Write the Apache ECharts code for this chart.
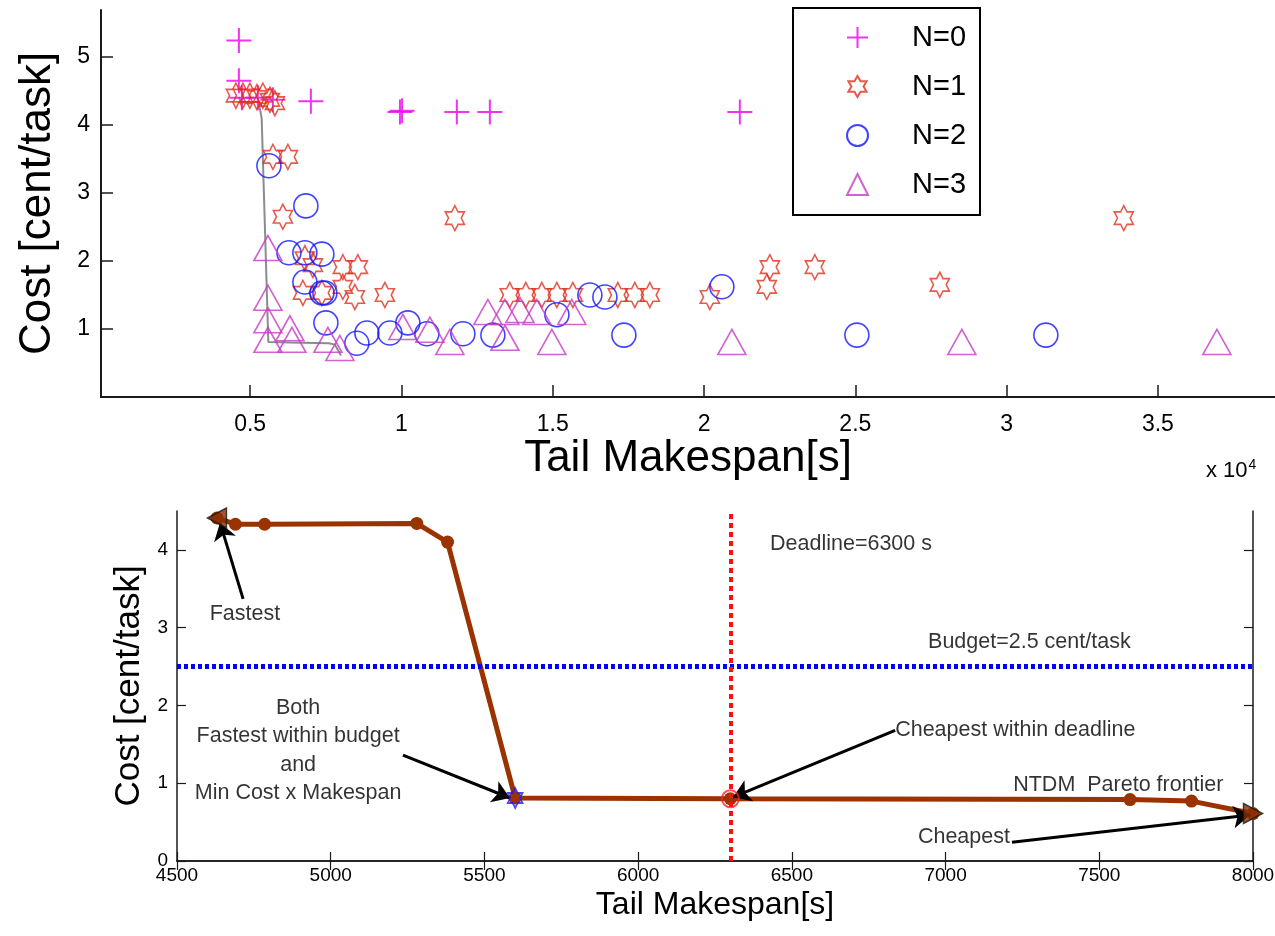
<!DOCTYPE html>
<html>
<head>
<meta charset="utf-8">
<script src="https://cdn.jsdelivr.net/npm/echarts@6/dist/echarts.min.js"></script>
<style>
  html, body { margin: 0; padding: 0; background: #fff; }
  #chart { width: 1275px; height: 936px; }
</style>
</head>
<body>
<div id="chart"></div>
<script>
// ---- Upper panel: every configuration, tail makespan [s] vs cost [cent/task], grouped by N ----
const n0X = [4627, 4627, 4726, 5254, 5750, 7006, 9950, 10020, 11830, 12921, 21183];
const n0Y = [5.24, 4.65, 4.40, 4.40, 4.37, 4.35, 4.19, 4.21, 4.19, 4.19, 4.19];

const n1X = [4528, 4759, 4990, 5222, 5420, 5652, 5817, 5751, 6247, 6080, 11765, 33873,
             6808, 7072, 8063, 8559, 6742, 7370, 8063, 8460, 9452,
             13580, 14110, 14640, 15135, 15664, 17150, 17713, 18209, 20192, 22075, 22175, 23662, 27793];
const n1Y = [4.43, 4.43, 4.43, 4.41, 4.43, 4.37, 4.32, 3.53, 3.53, 2.65, 2.63, 2.63,
             2.04, 1.94, 1.91, 1.91, 1.53, 1.53, 1.62, 1.47, 1.50,
             1.50, 1.50, 1.50, 1.50, 1.50, 1.50, 1.50, 1.50, 1.47, 1.62, 1.91, 1.91, 1.65];

const n2X = [5619, 6841, 6280, 6808, 7370, 6808, 7370, 7470, 7503, 8857, 8526, 9617,
             10212, 10840, 12030, 13022, 15137, 16227, 16723, 17351, 20590, 25052, 31297];
const n2Y = [3.40, 2.81, 2.12, 2.12, 2.10, 1.69, 1.53, 1.53, 1.09, 0.94, 0.79, 0.94,
             1.09, 0.93, 0.93, 0.91, 1.21, 1.50, 1.47, 0.91, 1.62, 0.91, 0.91];

const n3X = [5586, 5586, 5586, 5586, 6313, 6379, 7568, 7965, 10047, 10940, 11600,
             12857, 13420, 13420, 13915, 14475, 14970, 15630, 20920, 28520, 36950];
const n3Y = [2.19, 1.46, 1.13, 0.84, 1.01, 0.84, 0.84, 0.72, 1.03, 0.99, 0.81,
             1.25, 1.25, 0.87, 1.28, 1.25, 0.81, 1.25, 0.81, 0.81, 0.81];

const groupNames = ['N=0', 'N=1', 'N=2', 'N=3'];
const topXTicks = [5000, 10000, 15000, 20000, 25000, 30000, 35000];
const topYTicks = [1, 2, 3, 4, 5];

// ---- Lower panel: NTDM Pareto frontier with budget and deadline ----
const frontX = [4630, 4690, 4785, 5280, 5380, 5600, 6300, 7600, 7800, 8000];
const frontY = [4.41, 4.33, 4.33, 4.34, 4.10, 0.81, 0.80, 0.79, 0.77, 0.61];
const deadline = 6300;   // s
const budget = 2.5;      // cent/task
const bottomYTicks = [0, 1, 2, 3, 4];

// indices into the frontier of the highlighted solutions
const iFastest = 0;
const iFastestInBudget = 5;
const iCheapestInDeadline = 6;
const iCheapest = frontX.length - 1;

// text notes (anchor in data units) and the arrows that point at the solutions
const noteText = ['Deadline=6300 s', 'Budget=2.5 cent/task', 'Fastest',
                  'Both\nFastest within budget\nand\nMin Cost x Makespan',
                  'Cheapest within deadline', 'NTDM  Pareto frontier', 'Cheapest'];
const noteX = [6429, 6943, 4721, 4894, 6836, 7220, 6910];
const noteY = [4.08, 2.81, 3.18, 1.42, 1.68, 0.97, 0.31];
const noteAnchor = ['left', 'left', 'center', 'center', 'left', 'left', 'left'];

const arrowFromX = [4715, 5235, 6836, 7216];
const arrowFromY = [3.37, 1.36, 1.68, 0.24];
const arrowToX = [4640, 5583, 6309, 7991];
const arrowToY = [4.35, 0.81, 0.82, 0.59];

// ---- helpers / styles ----
const FONT = '"Liberation Sans", Arial, Helvetica, sans-serif';
const pts = (xs, ys) => xs.map((x, i) => [x, ys[i]]);

const PLUS = 'path://M0,-10L0,10M-10,0L10,0';
const HEXAGRAM = 'path://M0,-1000L-288.7,-500L-866,-500L-577.4,0L-866,500L-288.7,500L0,1000L288.7,500L866,500L577.4,0L866,-500L288.7,-500Z';
const TRI_LEFT = 'path://M0,500L1000,0L1000,1000Z';
const TRI_RIGHT = 'path://M1000,500L0,0L0,1000Z';

const BROWN = '#9a3300';
const AXIS = '#1a1a1a';

function outlineStyle(color, w) {
  return { color: 'transparent', borderColor: color, borderWidth: w };
}

const chart = echarts.init(document.getElementById('chart'), null, { renderer: 'canvas' });

const option = {
  backgroundColor: '#ffffff',
  animation: false,
  textStyle: { fontFamily: FONT },
  grid: [
    { left: 101, right: 0, top: 10, bottom: 539, outerBoundsMode: 'none', containLabel: false },
    { left: 177, right: 22, top: 511, bottom: 75, outerBoundsMode: 'none', containLabel: false }
  ],
  legend: {
    data: groupNames,
    orient: 'vertical',
    left: 793,
    top: 8,
    padding: [15, 14, 16, 53],
    itemWidth: 21,
    itemHeight: 21,
    itemGap: 20,
    selectedMode: false,
    backgroundColor: '#ffffff',
    borderColor: '#000000',
    borderWidth: 2,
    borderRadius: 0,
    textStyle: { fontFamily: FONT, fontSize: 29, lineHeight: 29, color: '#000', padding: [0, 0, 0, 39] }
  },
  xAxis: [
    {
      gridIndex: 0, type: 'value', min: 70, max: 38870,
      name: 'Tail Makespan[s]', nameLocation: 'middle', nameGap: 31,
      nameTextStyle: { fontFamily: FONT, fontSize: 44, color: '#000' },
      axisLine: { show: true, lineStyle: { color: AXIS, width: 2 } },
      axisTick: { show: true, inside: true, length: 12, customValues: topXTicks, lineStyle: { color: AXIS, width: 1.5 } },
      axisLabel: { show: true, customValues: topXTicks, margin: 16, fontSize: 23, color: '#000', fontFamily: FONT,
                   formatter: v => String(+(v / 10000).toFixed(2)) },
      splitLine: { show: false }
    },
    {
      gridIndex: 1, type: 'value', min: 4500, max: 8000, interval: 500,
      name: 'Tail Makespan[s]', nameLocation: 'middle', nameGap: 28,
      nameTextStyle: { fontFamily: FONT, fontSize: 32, color: '#000' },
      axisLine: { show: true, lineStyle: { color: AXIS, width: 1.5 } },
      axisTick: { show: true, inside: true, length: 9, lineStyle: { color: AXIS, width: 1.2 } },
      axisLabel: { show: true, margin: 5, fontSize: 19, color: '#000', fontFamily: FONT,
                   formatter: v => String(v) },
      splitLine: { show: false }
    },
    {
      gridIndex: 1, type: 'value', min: 4500, max: 8000, interval: 500, position: 'top',
      axisLine: { show: true, lineStyle: { color: AXIS, width: 1.5 } },
      axisTick: { show: true, inside: true, length: 9, lineStyle: { color: AXIS, width: 1.2 } },
      axisLabel: { show: false },
      splitLine: { show: false }
    }
  ],
  yAxis: [
    {
      gridIndex: 0, type: 'value', min: 0, max: 5.69,
      name: 'Cost [cent/task]', nameLocation: 'middle', nameGap: 41,
      nameTextStyle: { fontFamily: FONT, fontSize: 44, color: '#000' },
      axisLine: { show: true, lineStyle: { color: AXIS, width: 2 } },
      axisTick: { show: true, inside: true, length: 12, customValues: topYTicks, lineStyle: { color: AXIS, width: 1.5 } },
      axisLabel: { show: true, customValues: topYTicks, margin: 11, fontSize: 23, color: '#000', fontFamily: FONT },
      splitLine: { show: false }
    },
    {
      gridIndex: 1, type: 'value', min: 0, max: 4.5,
      name: 'Cost [cent/task]', nameLocation: 'middle', nameGap: 26,
      nameTextStyle: { fontFamily: FONT, fontSize: 35, color: '#000' },
      axisLine: { show: true, lineStyle: { color: AXIS, width: 1.5 } },
      axisTick: { show: true, inside: true, length: 9, customValues: bottomYTicks, lineStyle: { color: AXIS, width: 1.2 } },
      axisLabel: { show: true, customValues: bottomYTicks, margin: 9, fontSize: 19, color: '#000', fontFamily: FONT },
      splitLine: { show: false }
    },
    {
      gridIndex: 1, type: 'value', min: 0, max: 4.5, position: 'right',
      axisLine: { show: true, lineStyle: { color: AXIS, width: 1.5 } },
      axisTick: { show: true, inside: true, length: 9, customValues: bottomYTicks, lineStyle: { color: AXIS, width: 1.2 } },
      axisLabel: { show: false },
      splitLine: { show: false }
    }
  ],
  graphic: [
    {
      type: 'text', left: 1206, top: 458, silent: true,
      style: {
        text: '{b|x 10}{e|4}',
        rich: {
          b: { fontFamily: FONT, fontSize: 22, fill: '#000', verticalAlign: 'bottom' },
          e: { fontFamily: FONT, fontSize: 14, fill: '#000', verticalAlign: 'top', padding: [0, 0, 10, 1] }
        }
      }
    }
  ],
  series: [
    // upper panel
    {
      name: 'frontier-top', type: 'line', xAxisIndex: 0, yAxisIndex: 0,
      data: pts(frontX, frontY), symbol: 'none', silent: true, z: 1,
      lineStyle: { color: '#8c8c8c', width: 2 }
    },
    {
      name: groupNames[0], type: 'scatter', xAxisIndex: 0, yAxisIndex: 0, z: 3,
      data: pts(n0X, n0Y), symbol: PLUS, symbolSize: 25,
      itemStyle: outlineStyle('#ee00ee', 2)
    },
    {
      name: groupNames[1], type: 'scatter', xAxisIndex: 0, yAxisIndex: 0, z: 3,
      data: pts(n1X, n1Y), symbol: HEXAGRAM, symbolSize: [22, 25], symbolKeepAspect: true,
      itemStyle: outlineStyle('#e0301e', 1.6)
    },
    {
      name: groupNames[2], type: 'scatter', xAxisIndex: 0, yAxisIndex: 0, z: 3,
      data: pts(n2X, n2Y), symbol: 'circle', symbolSize: 24,
      itemStyle: outlineStyle('#1414ff', 1.6)
    },
    {
      name: groupNames[3], type: 'scatter', xAxisIndex: 0, yAxisIndex: 0, z: 3,
      data: pts(n3X, n3Y), symbol: 'triangle', symbolSize: [28, 25],
      itemStyle: outlineStyle('#c43cc4', 1.6)
    },
    // lower panel
    {
      name: 'NTDM Pareto frontier', type: 'line', xAxisIndex: 1, yAxisIndex: 1, z: 3,
      data: pts(frontX, frontY), symbol: 'circle', symbolSize: 13, showAllSymbol: true,
      itemStyle: { color: BROWN }, lineStyle: { color: BROWN, width: 5 }
    },
    {
      name: 'limits', type: 'line', xAxisIndex: 1, yAxisIndex: 1, z: 4, data: [],
      markLine: {
        silent: true, symbol: ['none', 'none'], label: { show: false }, animation: false,
        data: [
          { yAxis: budget, lineStyle: { color: '#0000ff', type: [4, 3], width: 5 } },
          { xAxis: deadline, lineStyle: { color: '#ff1010', type: [5, 4], width: 4 } }
        ]
      }
    },
    {
      name: 'fastest', type: 'scatter', xAxisIndex: 1, yAxisIndex: 1, z: 6, clip: false,
      data: [[frontX[iFastest], frontY[iFastest]]], symbol: TRI_LEFT, symbolSize: [19, 20],
      itemStyle: { color: '#8a2e00', borderColor: '#1a1a1a', borderWidth: 1.5 }
    },
    {
      name: 'cheapest', type: 'scatter', xAxisIndex: 1, yAxisIndex: 1, z: 6, clip: false,
      data: [[frontX[iCheapest], frontY[iCheapest]]], symbol: TRI_RIGHT, symbolSize: [19, 20],
      itemStyle: { color: '#8a2e00', borderColor: '#1a1a1a', borderWidth: 1.5 }
    },
    {
      name: 'fastest within budget', type: 'scatter', xAxisIndex: 1, yAxisIndex: 1, z: 5,
      data: [[frontX[iFastestInBudget], frontY[iFastestInBudget]]], symbol: HEXAGRAM,
      symbolSize: [17, 20], symbolKeepAspect: true,
      itemStyle: outlineStyle('#1a1aff', 1.8)
    },
    {
      name: 'cheapest within deadline', type: 'scatter', xAxisIndex: 1, yAxisIndex: 1, z: 5,
      data: [[frontX[iCheapestInDeadline], frontY[iCheapestInDeadline]]], symbol: 'circle', symbolSize: 17,
      itemStyle: outlineStyle('#ff2020', 2)
    },
    {
      name: 'notes', type: 'scatter', xAxisIndex: 1, yAxisIndex: 1, z: 7, silent: true, clip: false,
      symbolSize: 0,
      data: noteText.map((t, i) => ({
        value: [noteX[i], noteY[i]],
        label: {
          show: true,
          formatter: t,
          position: noteAnchor[i] === 'left' ? 'right' : 'inside',
          distance: 0,
          align: noteAnchor[i] === 'left' ? 'left' : 'center',
          verticalAlign: 'middle',
          fontFamily: FONT, fontSize: 21.5, lineHeight: 28.5, color: '#000'
        }
      })),
      markLine: {
        silent: true, animation: false, symbol: ['none', 'arrow'], symbolSize: 17,
        label: { show: false },
        lineStyle: { color: '#000', width: 3, type: 'solid' },
        data: arrowFromX.map((x, i) => [
          { coord: [x, arrowFromY[i]] },
          { coord: [arrowToX[i], arrowToY[i]] }
        ])
      }
    }
  ]
};

chart.setOption(option);
</script>
</body>
</html>
